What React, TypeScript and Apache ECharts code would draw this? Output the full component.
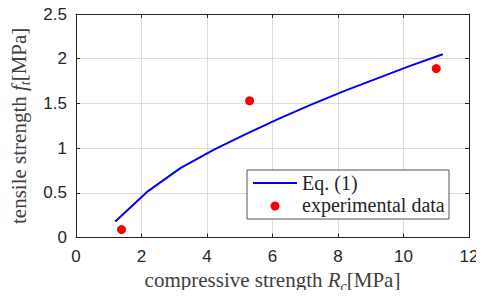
import React, { useEffect, useRef } from "react";
import * as echarts from "echarts";

const eqX = [1.2, 2.2, 3.2, 4.2, 5.2, 6.2, 7.2, 8.2, 9.2, 10.2, 11.2];
const eqY = [0.18, 0.52, 0.78, 0.98, 1.16, 1.33, 1.49, 1.64, 1.78, 1.92, 2.05];
const expX = [1.39, 5.3, 11.0];
const expY = [0.09, 1.53, 1.89];
const xTicks = [0, 2, 4, 6, 8, 10, 12];
const yTicks = [0, 0.5, 1, 1.5, 2, 2.5];
const legendNames = ["Eq. (1)", "experimental data"];

const AX = "#262626";
const TXT = "#404040";
const SERIF = "Liberation Serif";
const SANS = "Liberation Sans";

export default function App() {
  const ref = useRef<HTMLDivElement>(null);
  useEffect(() => {
    if (!ref.current) return;
    const chart = echarts.init(ref.current, undefined, { renderer: "svg" });
    const common = {
      axisLine: { show: true, onZero: false, lineStyle: { color: AX, width: 1 } },
      axisTick: { show: true, inside: true, length: 4, lineStyle: { color: AX } },
    };
    const nameRich = {
      n: { fontFamily: SERIF, fontSize: 21, color: TXT, lineHeight: 26 },
      i: { fontFamily: SERIF, fontSize: 21, fontStyle: "italic", color: TXT, lineHeight: 26 },
      s: { fontFamily: SERIF, fontSize: 14, fontStyle: "italic", color: TXT, verticalAlign: "bottom", lineHeight: 26 },
    };
    const legRich = {
      n: { fontFamily: SERIF, fontSize: 20, color: AX, lineHeight: 22 },
    };
    // hidden helper axes whose names carry the legend labels
    const legendAxis = (gridIndex: number, label: string) => ({
      type: "value",
      gridIndex,
      min: 0,
      max: 1,
      axisLine: { show: false },
      axisTick: { show: false },
      axisLabel: { show: false },
      splitLine: { show: false },
      name: `{n|${label}}`,
      nameLocation: "end",
      nameGap: 0,
      nameTextStyle: { rich: legRich, align: "left", verticalAlign: "middle" },
      z: 60,
    });
    const hiddenX = (gridIndex: number) => ({ type: "value", gridIndex, show: false, min: 0, max: 1 });
    chart.setOption({
      animation: false,
      backgroundColor: "#ffffff",
      grid: [
        { left: 76, right: 15, top: 14, bottom: 59, containLabel: false },
        { left: 302, top: 183, width: 10, height: 2, containLabel: false },
        { left: 302, top: 205, width: 10, height: 2, containLabel: false },
      ],
      xAxis: [
        {
          type: "value",
          gridIndex: 0,
          min: 0,
          max: 12,
          interval: 2,
          ...common,
          axisLabel: {
            color: AX, fontFamily: SANS, fontSize: 17, margin: 10,
            formatter: (v: number) => (xTicks.includes(v) ? String(v) : ""),
          },
          splitLine: { show: true, lineStyle: { color: "#dcdcdc", width: 1 } },
          name: "{n|compressive strength }{i|R}{s|c}{n|[MPa]}",
          nameLocation: "middle",
          nameGap: 28,
          nameTextStyle: { rich: nameRich },
        },
        {
          type: "value",
          gridIndex: 0,
          min: 0,
          max: 12,
          interval: 2,
          position: "top",
          ...common,
          axisLabel: { show: false },
          splitLine: { show: false },
        },
        hiddenX(1),
        hiddenX(2),
      ],
      yAxis: [
        {
          type: "value",
          gridIndex: 0,
          min: 0,
          max: 2.5,
          interval: 0.5,
          ...common,
          axisLabel: {
            color: AX, fontFamily: SANS, fontSize: 17, margin: 9,
            formatter: (v: number) => (yTicks.includes(v) ? String(v) : ""),
          },
          splitLine: { show: true, lineStyle: { color: "#dcdcdc", width: 1 } },
          name: "{n|tensile strength }{i|f}{s|t}{n|[MPa]}",
          nameLocation: "middle",
          nameGap: 37,
          nameTextStyle: { rich: nameRich },
        },
        {
          type: "value",
          gridIndex: 0,
          min: 0,
          max: 2.5,
          interval: 0.5,
          position: "right",
          ...common,
          axisLabel: { show: false },
          splitLine: { show: false },
        },
        legendAxis(1, legendNames[0]),
        legendAxis(2, legendNames[1]),
      ],
      graphic: [
        {
          type: "rect",
          shape: { x: 247, y: 170, width: 202, height: 49 },
          style: { fill: "#ffffff", stroke: "#555555", lineWidth: 1 },
          z: 50,
        },
        {
          type: "line",
          shape: { x1: 253, y1: 183, x2: 297, y2: 183 },
          style: { stroke: "#0000ff", lineWidth: 2 },
          z: 51,
        },
        {
          type: "circle",
          shape: { cx: 275, cy: 206, r: 4.5 },
          style: { fill: "#ff0000" },
          z: 51,
        },
      ],
      series: [
        {
          name: legendNames[0],
          type: "line",
          data: eqX.map((x, k) => [x, eqY[k]]),
          showSymbol: false,
          symbol: "none",
          lineStyle: { color: "#0000ff", width: 2 },
          itemStyle: { color: "#0000ff" },
          xAxisIndex: 0,
          yAxisIndex: 0,
        },
        {
          name: legendNames[1],
          type: "scatter",
          data: expX.map((x, k) => [x, expY[k]]),
          symbol: "circle",
          symbolSize: 9,
          itemStyle: { color: "#ff0000", opacity: 1 },
          xAxisIndex: 0,
          yAxisIndex: 0,
        },
      ],
    });
    return () => chart.dispose();
  }, []);
  return <div ref={ref} style={{ width: 484, height: 298, margin: -8 }} />;
}
